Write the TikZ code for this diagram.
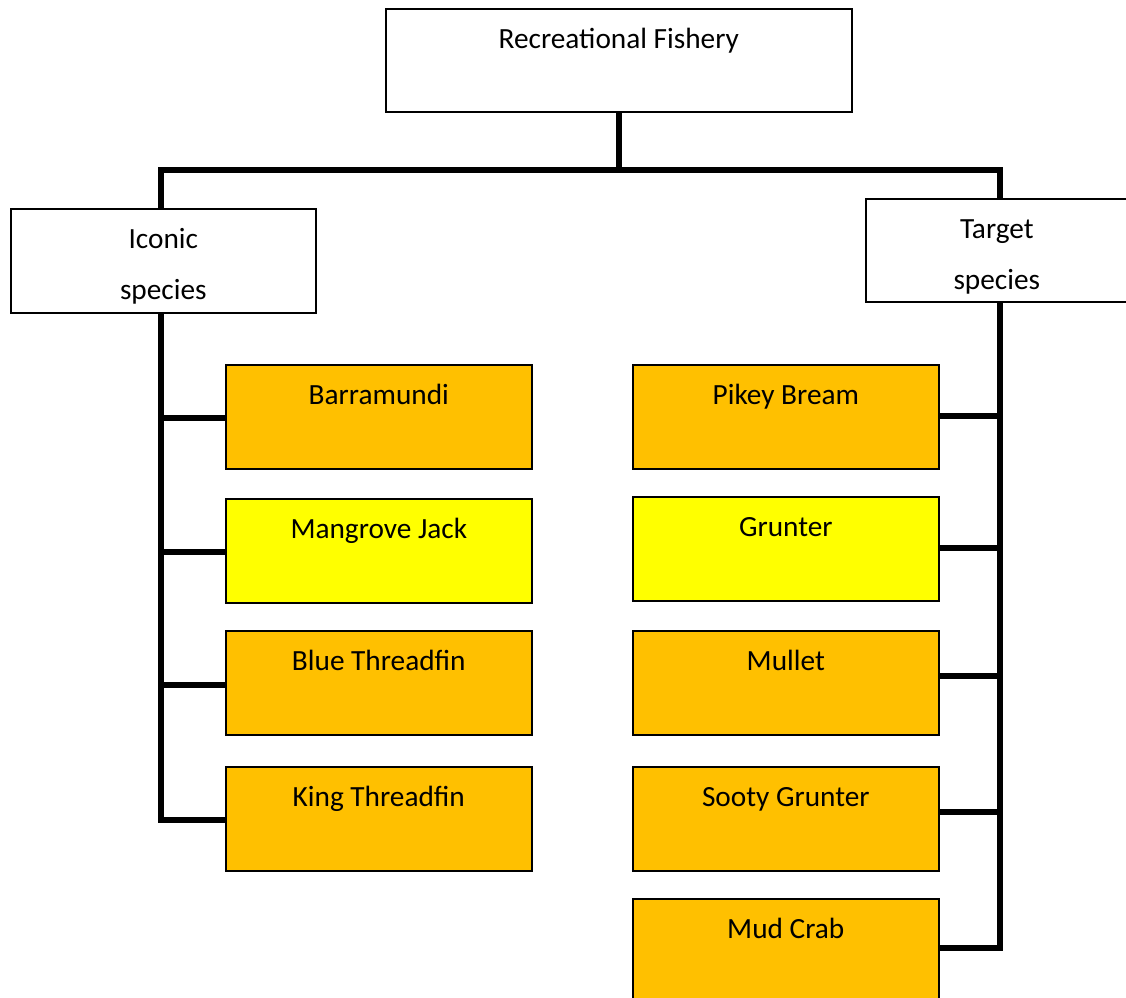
\documentclass[tikz,border=0pt]{standalone}
\usepackage{fontspec}
\setmainfont{Carlito}
\definecolor{boxorange}{HTML}{FFC000}
\definecolor{boxyellow}{HTML}{FFFF00}
\begin{document}
\begin{tikzpicture}[x=1pt,y=-1pt,
  box/.style={draw=black,line width=1.6pt,inner xsep=0pt,inner ysep=0pt,
    anchor=north west,align=center,font=\fontsize{29.3}{51}\selectfont},
  sbox/.style={box,minimum width=306pt,minimum height=104pt,text height=40pt,text depth=64pt},
  orangebox/.style={sbox,fill=boxorange},
  yellowbox/.style={sbox,fill=boxyellow},
  link/.style={line width=5.5pt,line join=miter,line cap=butt}]
\useasboundingbox (0,0) rectangle (1126,997);
\clip (0,0) rectangle (1126,997);
\fill[white] (0,0) rectangle (1126,997);

% top of the hierarchy
\node[box,minimum width=466pt,minimum height=103pt,text height=40pt,text depth=63pt]
  (top) at (385,8) {Recreational Fishery};

% the two groups (two-line labels: baseline sits on the last line)
\node[box,minimum width=305pt,minimum height=104pt,text height=91pt,text depth=13pt]
  (iconic) at (10,208) {Iconic\\species};
\node[box,minimum width=262pt,minimum height=103pt,text height=91pt,text depth=12pt]
  (target) at (865,198) {Target\\species};

% iconic species
\node[orangebox] (barra) at (225,364) {Barramundi};
\node[yellowbox] (mjack) at (225,498) {Mangrove Jack};
\node[orangebox] (bthread) at (225,630) {Blue Threadfin};
\node[orangebox] (kthread) at (225,766) {King Threadfin};

% target species
\node[orangebox] (pikey) at (632,364) {Pikey Bream};
\node[yellowbox] (grunter) at (632,496) {Grunter};
\node[orangebox] (mullet) at (632,630) {Mullet};
\node[orangebox] (sooty) at (632,766) {Sooty Grunter};
\node[orangebox] (mud) at (632,898) {Mud Crab};

% trunk and branches
\coordinate (split) at (top.south |- 0,170);
\coordinate (lt) at (161,170);
\coordinate (rt) at (1000,170);
\draw[link] (top.south) -- (split);
\draw[link] (lt |- iconic.north) -- (lt) -- (rt) -- (rt |- target.north);

% left spine
\coordinate (lb) at (161,820);
\draw[link] (lt |- iconic.south) -- (lb) -- (kthread.west |- lb);
\draw[link] (161,418) -- (barra.west |- 0,418);
\draw[link] (161,552) -- (mjack.west |- 0,552);
\draw[link] (161,685) -- (bthread.west |- 0,685);

% right spine
\coordinate (rb) at (1000,948);
\draw[link] (rt |- target.south) -- (rb) -- (mud.east |- rb);
\draw[link] (1000,416) -- (pikey.east |- 0,416);
\draw[link] (1000,548) -- (grunter.east |- 0,548);
\draw[link] (1000,676) -- (mullet.east |- 0,676);
\draw[link] (1000,812) -- (sooty.east |- 0,812);
\end{tikzpicture}
\end{document}
